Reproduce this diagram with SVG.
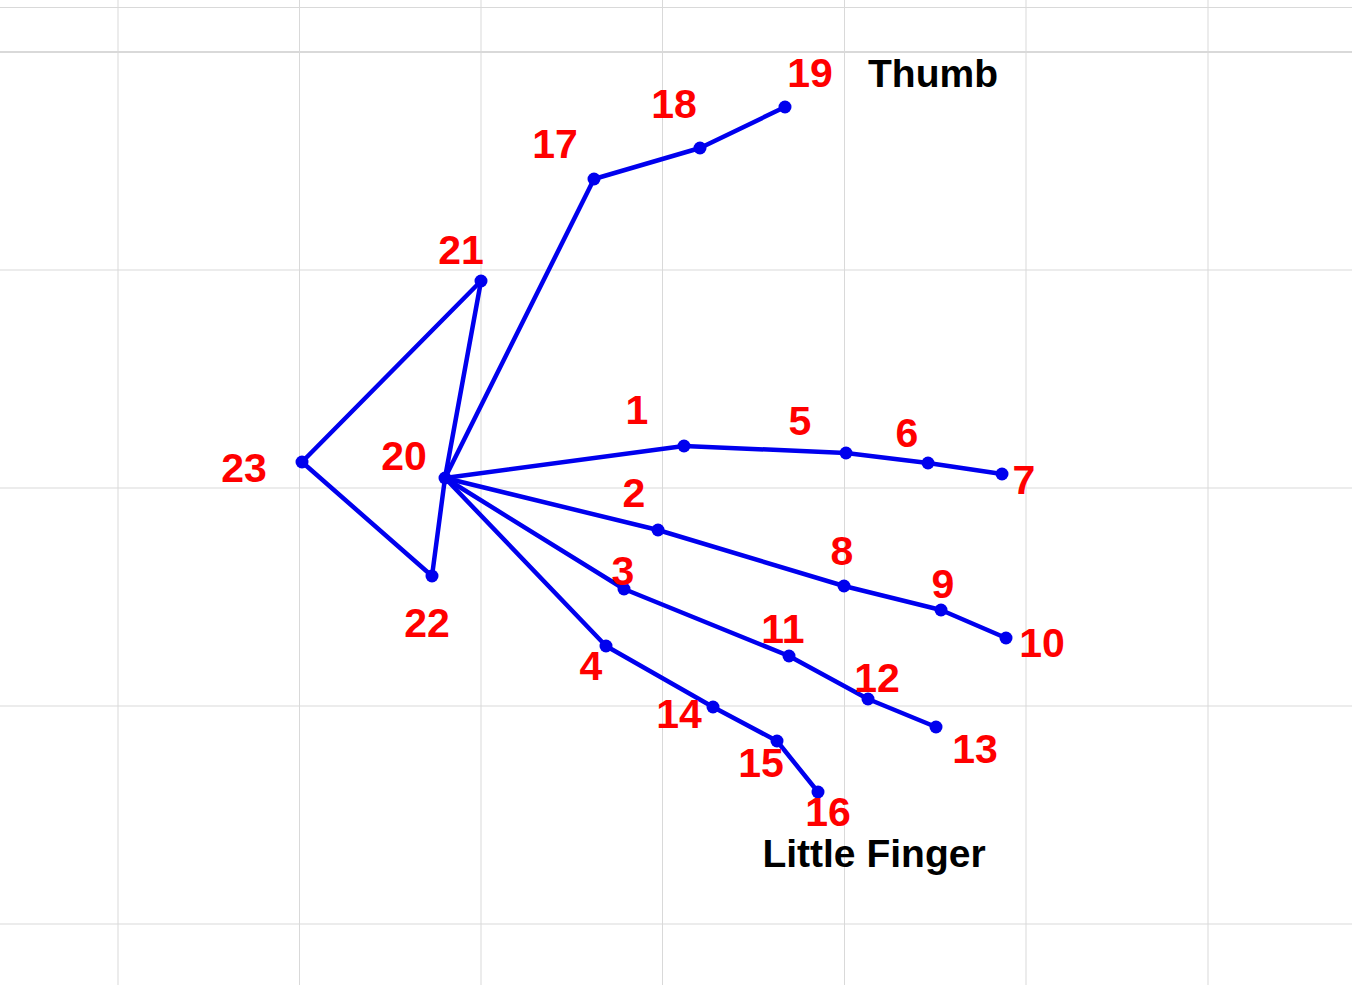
<svg xmlns="http://www.w3.org/2000/svg" width="1352" height="985" viewBox="0 0 1352 985">
<style>
.grid line{stroke:#d9d9d9;stroke-width:1}
.edges line{stroke:#0000ee;stroke-width:4.5;stroke-linecap:round}
.node circle{fill:#0000ee}
.lbl{font-family:"Liberation Sans",Arial,sans-serif;font-weight:bold;font-size:41px;fill:#ff0000;text-anchor:middle}
.cap{font-family:"Liberation Sans",Arial,sans-serif;font-weight:bold;font-size:39px;fill:#000000;text-anchor:middle}
</style>
<rect width="1352" height="985" fill="#ffffff"/>
<g class="grid" id="grid">
<line x1="118" y1="0" x2="118" y2="985"/>
<line x1="299.5" y1="0" x2="299.5" y2="985"/>
<line x1="481" y1="0" x2="481" y2="985"/>
<line x1="662.5" y1="0" x2="662.5" y2="985"/>
<line x1="844.5" y1="0" x2="844.5" y2="985"/>
<line x1="1026" y1="0" x2="1026" y2="985"/>
<line x1="1208" y1="0" x2="1208" y2="985"/>
<line x1="0" y1="7.5" x2="1352" y2="7.5"/>
<line x1="0" y1="52" x2="1352" y2="52" style="stroke-width:2"/>
<line x1="0" y1="270" x2="1352" y2="270"/>
<line x1="0" y1="488" x2="1352" y2="488"/>
<line x1="0" y1="706" x2="1352" y2="706"/>
<line x1="0" y1="924" x2="1352" y2="924"/>
</g>
<g class="edges" id="connectors">
<line x1="445" y1="478" x2="594" y2="179"/>
<line x1="594" y1="179" x2="700" y2="148"/>
<line x1="700" y1="148" x2="785" y2="107"/>
<line x1="445" y1="478" x2="481" y2="281"/>
<line x1="481" y1="281" x2="302" y2="462"/>
<line x1="302" y1="462" x2="432" y2="576"/>
<line x1="432" y1="576" x2="445" y2="478"/>
<line x1="445" y1="478" x2="684" y2="446"/>
<line x1="684" y1="446" x2="846" y2="453"/>
<line x1="846" y1="453" x2="928" y2="463"/>
<line x1="928" y1="463" x2="1002" y2="474"/>
<line x1="445" y1="478" x2="658" y2="530"/>
<line x1="658" y1="530" x2="844" y2="586"/>
<line x1="844" y1="586" x2="941" y2="610"/>
<line x1="941" y1="610" x2="1006" y2="638"/>
<line x1="445" y1="478" x2="624" y2="589"/>
<line x1="624" y1="589" x2="789" y2="656"/>
<line x1="789" y1="656" x2="868" y2="699"/>
<line x1="868" y1="699" x2="936" y2="727"/>
<line x1="445" y1="478" x2="606" y2="646"/>
<line x1="606" y1="646" x2="713" y2="707"/>
<line x1="713" y1="707" x2="777" y2="741"/>
<line x1="777" y1="741" x2="818" y2="792"/>
</g>
<g class="node" id="n1"><circle cx="684" cy="446" r="6.5"/><text class="lbl" x="637" y="424">1</text></g>
<g class="node" id="n2"><circle cx="658" cy="530" r="6.5"/><text class="lbl" x="634" y="507">2</text></g>
<g class="node" id="n3"><circle cx="624" cy="589" r="6.5"/><text class="lbl" x="623" y="585">3</text></g>
<g class="node" id="n4"><circle cx="606" cy="646" r="6.5"/><text class="lbl" x="591" y="680">4</text></g>
<g class="node" id="n5"><circle cx="846" cy="453" r="6.5"/><text class="lbl" x="800" y="435">5</text></g>
<g class="node" id="n6"><circle cx="928" cy="463" r="6.5"/><text class="lbl" x="907" y="447">6</text></g>
<g class="node" id="n7"><circle cx="1002" cy="474" r="6.5"/><text class="lbl" x="1024" y="494">7</text></g>
<g class="node" id="n8"><circle cx="844" cy="586" r="6.5"/><text class="lbl" x="842" y="565">8</text></g>
<g class="node" id="n9"><circle cx="941" cy="610" r="6.5"/><text class="lbl" x="943" y="598">9</text></g>
<g class="node" id="n10"><circle cx="1006" cy="638" r="6.5"/><text class="lbl" x="1042" y="657">10</text></g>
<g class="node" id="n11"><circle cx="789" cy="656" r="6.5"/><text class="lbl" x="783" y="643">11</text></g>
<g class="node" id="n12"><circle cx="868" cy="699" r="6.5"/><text class="lbl" x="877" y="692">12</text></g>
<g class="node" id="n13"><circle cx="936" cy="727" r="6.5"/><text class="lbl" x="975" y="763">13</text></g>
<g class="node" id="n14"><circle cx="713" cy="707" r="6.5"/><text class="lbl" x="679" y="728">14</text></g>
<g class="node" id="n15"><circle cx="777" cy="741" r="6.5"/><text class="lbl" x="761" y="777">15</text></g>
<g class="node" id="n16"><circle cx="818" cy="792" r="6.5"/><text class="lbl" x="828" y="826">16</text></g>
<g class="node" id="n17"><circle cx="594" cy="179" r="6.5"/><text class="lbl" x="555" y="158">17</text></g>
<g class="node" id="n18"><circle cx="700" cy="148" r="6.5"/><text class="lbl" x="674" y="118">18</text></g>
<g class="node" id="n19"><circle cx="785" cy="107" r="6.5"/><text class="lbl" x="810" y="87">19</text></g>
<g class="node" id="n20"><circle cx="445" cy="478" r="6.5"/><text class="lbl" x="404" y="470">20</text></g>
<g class="node" id="n21"><circle cx="481" cy="281" r="6.5"/><text class="lbl" x="461" y="264">21</text></g>
<g class="node" id="n22"><circle cx="432" cy="576" r="6.5"/><text class="lbl" x="427" y="637">22</text></g>
<g class="node" id="n23"><circle cx="302" cy="462" r="6.5"/><text class="lbl" x="244" y="482">23</text></g>
<g id="captions">
<text class="cap" x="933" y="87">Thumb</text>
<text class="cap" x="874" y="867">Little Finger</text>
</g>
</svg>
